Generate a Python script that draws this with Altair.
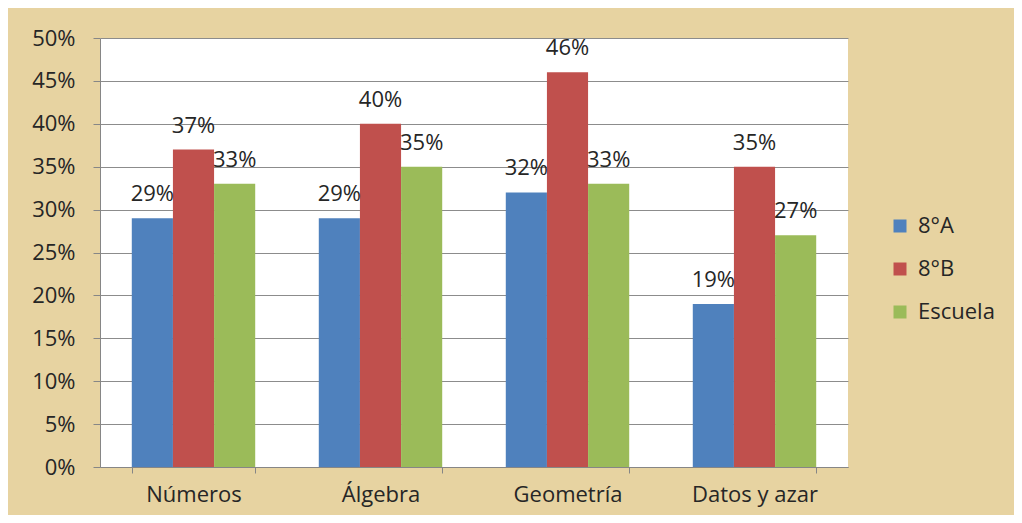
import altair as alt
import pandas as pd

categories = ["Números", "Álgebra", "Geometría", "Datos y azar"]
series = ["8°A", "8°B", "Escuela"]
values_8A = [29, 29, 32, 19]
values_8B = [37, 40, 46, 35]
values_esc = [33, 35, 33, 27]
colors = ["#4F81BD", "#C0504D", "#9BBB59"]

rows = []
for i, c in enumerate(categories):
    for s, vals in zip(series, [values_8A, values_8B, values_esc]):
        rows.append({"cat": c, "serie": s, "valor": vals[i], "label": f"{vals[i]}%"})
df = pd.DataFrame(rows)

FONT = "Open Sans"
FS = 22
TXT = "#262626"

x = alt.X("cat:N", sort=categories, title=None,
          scale=alt.Scale(paddingInner=0.34, paddingOuter=0.17),
          axis=alt.Axis(labelAngle=0, labelFontSize=FS, labelColor=TXT, labelFont=FONT,
                        tickBand="extent", ticks=True, tickSize=6, tickColor="#868686",
                        domainColor="#868686", labelPadding=11, grid=False))
xo = alt.XOffset("serie:N", sort=series, scale=alt.Scale(paddingInner=0, paddingOuter=0))
y = alt.Y("valor:Q", title=None,
          scale=alt.Scale(domain=[0, 50], nice=False),
          axis=alt.Axis(values=list(range(0, 51, 5)), labelExpr="datum.value + '%'",
                        labelFontSize=FS, labelColor=TXT, labelFont=FONT,
                        tickSize=7, tickColor="#868686", domainColor="#868686",
                        gridColor="#8c8c8c", gridWidth=1, labelPadding=18))

bars = alt.Chart(df).mark_bar().encode(
    x=x, xOffset=xo, y=y,
    color=alt.Color("serie:N", sort=series,
                    scale=alt.Scale(domain=series, range=colors),
                    legend=alt.Legend(title=None, orient="none", legendX=789, legendY=177,
                                      symbolType="square", symbolSize=169, symbolStrokeWidth=0,
                                      labelFontSize=FS, labelFont=FONT, labelColor=TXT,
                                      rowPadding=21, labelOffset=7)),
)

text = alt.Chart(df).mark_text(fontSize=FS, font=FONT, color=TXT, baseline="middle", dy=-24).encode(
    x=x, xOffset=xo, y=y, text="label:N"
)

chart = (bars + text).properties(
    width=748, height=429,
    background="#E7D3A1",
    padding={"left": 92, "top": 30, "right": 166, "bottom": 48},
    autosize=alt.AutoSizeParams(type="none"),
).configure_view(fill="white", stroke=None)

chart.save("out.html", embed_options={"renderer": "svg", "actions": False})
